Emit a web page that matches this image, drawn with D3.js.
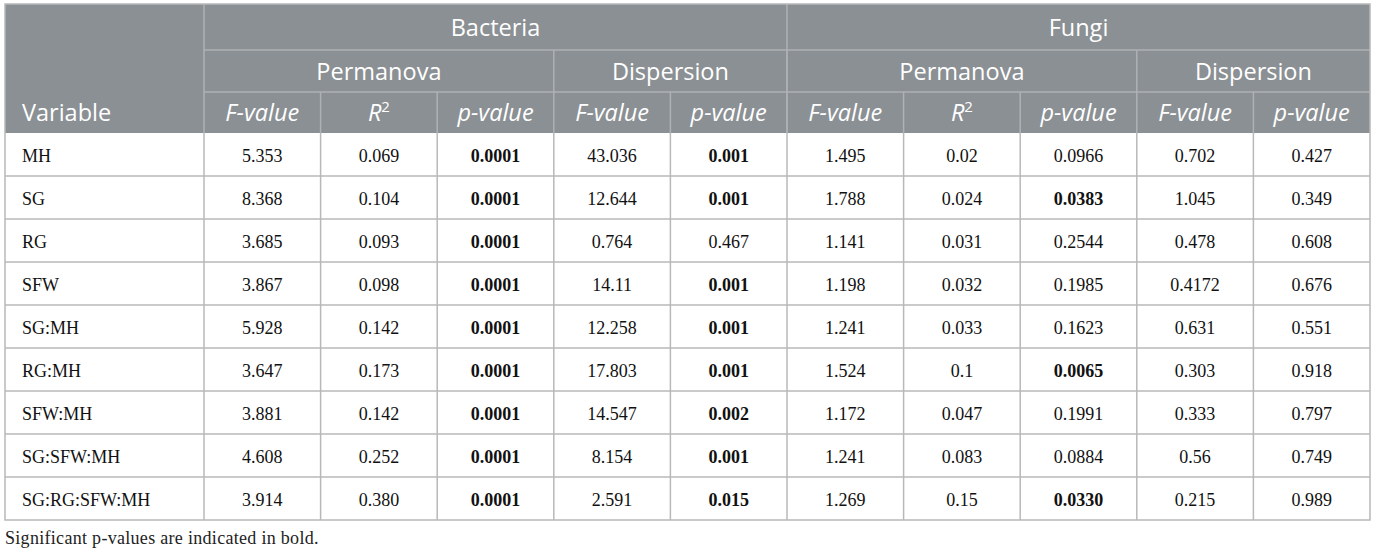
<!DOCTYPE html>
<html>
<head>
<meta charset="utf-8">
<script src="https://cdnjs.cloudflare.com/ajax/libs/d3/7.8.5/d3.min.js"></script>
<style>
  body { margin: 0; background: #fff; }
  svg { display: block; }
</style>
</head>
<body>
<div id="chart"></div>
<script>
// table content
var variables = ["MH", "SG", "RG", "SFW", "SG:MH", "RG:MH", "SFW:MH", "SG:SFW:MH", "SG:RG:SFW:MH"];
var bacPermF  = ["5.353", "8.368", "3.685", "3.867", "5.928", "3.647", "3.881", "4.608", "3.914"];
var bacPermR2 = ["0.069", "0.104", "0.093", "0.098", "0.142", "0.173", "0.142", "0.252", "0.380"];
var bacPermP  = ["0.0001", "0.0001", "0.0001", "0.0001", "0.0001", "0.0001", "0.0001", "0.0001", "0.0001"];
var bacDispF  = ["43.036", "12.644", "0.764", "14.11", "12.258", "17.803", "14.547", "8.154", "2.591"];
var bacDispP  = ["0.001", "0.001", "0.467", "0.001", "0.001", "0.001", "0.002", "0.001", "0.015"];
var funPermF  = ["1.495", "1.788", "1.141", "1.198", "1.241", "1.524", "1.172", "1.241", "1.269"];
var funPermR2 = ["0.02", "0.024", "0.031", "0.032", "0.033", "0.1", "0.047", "0.083", "0.15"];
var funPermP  = ["0.0966", "0.0383", "0.2544", "0.1985", "0.1623", "0.0065", "0.1991", "0.0884", "0.0330"];
var funDispF  = ["0.702", "1.045", "0.478", "0.4172", "0.631", "0.303", "0.333", "0.56", "0.215"];
var funDispP  = ["0.427", "0.349", "0.608", "0.676", "0.551", "0.918", "0.797", "0.749", "0.989"];

var groups = ["Bacteria", "Fungi"];
var subGroups = ["Permanova", "Dispersion", "Permanova", "Dispersion"];
var subSpan = [3, 2, 3, 2];
var colHeads = ["F-value", "R2", "p-value", "F-value", "p-value", "F-value", "R2", "p-value", "F-value", "p-value"];
var colData = [bacPermF, bacPermR2, bacPermP, bacDispF, bacDispP, funPermF, funPermR2, funPermP, funDispF, funDispP];
var isP = [false, false, true, false, true, false, false, true, false, true];
var note = "Significant p-values are indicated in bold.";

var W = 1375, H = 554;
var left = 5, varW = 199, right = 1370;
var top0 = 4, headRows = [4, 50, 92, 133], bottom = 520;

var headFill = "#8b9094", lineC = "#b8b8b8", headLine = "#aeb2b5";
var sans = "'Open Sans', sans-serif", serif = "'Liberation Serif', 'Times New Roman', serif";

var svg = d3.select("#chart").append("svg").attr("width", W).attr("height", H);

var x = d3.scaleBand().domain(d3.range(colHeads.length)).range([left + varW, right]);
var y = d3.scaleBand().domain(variables).range([headRows[3], bottom]);
var xGrp = d3.scaleBand().domain(groups).range([left + varW, right]);

// subgroup extents from column spans
var subs = [];
var c0 = 0;
subGroups.forEach(function(s, i) {
  subs.push({ name: s, x0: x(c0), x1: x(c0 + subSpan[i] - 1) + x.bandwidth(), start: c0 });
  c0 += subSpan[i];
});
var subStarts = subs.map(function(s) { return s.start; });

// header background
svg.append("rect").attr("x", left).attr("y", top0).attr("width", right - left).attr("height", headRows[3] - top0)
  .attr("fill", headFill);

// header lines
var hl = svg.append("g").attr("stroke", headLine).attr("stroke-width", 1.5);
hl.append("line").attr("x1", left + varW).attr("x2", right).attr("y1", headRows[1]).attr("y2", headRows[1]);
hl.append("line").attr("x1", left + varW).attr("x2", right).attr("y1", headRows[2]).attr("y2", headRows[2]);
hl.append("line").attr("x1", left + varW).attr("x2", left + varW).attr("y1", top0).attr("y2", headRows[3]);
hl.append("line").attr("x1", xGrp("Fungi")).attr("x2", xGrp("Fungi")).attr("y1", top0).attr("y2", headRows[3]);
hl.selectAll(".sub").data(subs.filter(function(s) { return s.start > 0; })).enter().append("line")
  .attr("x1", function(d) { return d.x0; }).attr("x2", function(d) { return d.x0; })
  .attr("y1", headRows[1]).attr("y2", headRows[3]);
hl.selectAll(".col").data(d3.range(1, colHeads.length).filter(function(i) { return subStarts.indexOf(i) < 0; }))
  .enter().append("line")
  .attr("x1", function(d) { return x(d); }).attr("x2", function(d) { return x(d); })
  .attr("y1", headRows[2]).attr("y2", headRows[3]);

var hs = 23.5;
// group titles
svg.selectAll(".grp").data(groups).enter().append("text")
  .attr("x", function(d) { return xGrp(d) + xGrp.bandwidth() / 2; })
  .attr("y", (headRows[0] + headRows[1]) / 2 + 8.5)
  .attr("text-anchor", "middle").attr("fill", "#fff")
  .style("font-family", sans).style("font-size", hs + "px")
  .text(function(d) { return d; });

svg.selectAll(".subt").data(subs).enter().append("text")
  .attr("x", function(d) { return (d.x0 + d.x1) / 2; })
  .attr("y", (headRows[1] + headRows[2]) / 2 + 8.5)
  .attr("text-anchor", "middle").attr("fill", "#fff")
  .style("font-family", sans).style("font-size", hs + "px")
  .text(function(d) { return d.name; });

svg.append("text").attr("x", left + 17).attr("y", (headRows[2] + headRows[3]) / 2 + 8.5)
  .attr("fill", "#fff").style("font-family", sans).style("font-size", hs + "px").text("Variable");

var ch = svg.selectAll(".ch").data(colHeads).enter().append("text")
  .attr("x", function(d, i) { return x(i) + x.bandwidth() / 2; })
  .attr("y", (headRows[2] + headRows[3]) / 2 + 8.5)
  .attr("text-anchor", "middle").attr("fill", "#fff")
  .style("font-family", sans).style("font-size", hs + "px").style("font-style", "italic");
ch.each(function(d) {
  var t = d3.select(this);
  if (d == "R2") {
    t.append("tspan").text("R");
    t.append("tspan").attr("dy", -9).style("font-size", "15px").style("font-style", "normal").text("2");
  } else {
    t.text(d);
  }
});

// body grid
var grid = svg.append("g").attr("stroke", lineC).attr("stroke-width", 1.5);
grid.selectAll(".h").data(variables.slice(1)).enter().append("line")
  .attr("x1", left).attr("x2", right)
  .attr("y1", function(d) { return y(d); }).attr("y2", function(d) { return y(d); });
grid.selectAll(".v").data(d3.range(colHeads.length)).enter().append("line")
  .attr("x1", function(d) { return x(d); }).attr("x2", function(d) { return x(d); })
  .attr("y1", headRows[3]).attr("y2", bottom);
grid.append("rect").attr("x", left).attr("y", top0).attr("width", right - left).attr("height", bottom - top0)
  .attr("fill", "none");

// body text
var rows = svg.selectAll(".row").data(variables).enter().append("g")
  .attr("transform", function(d) { return "translate(0," + (y(d) + y.bandwidth() / 2 + 7) + ")"; });
rows.append("text").attr("x", left + 17).attr("fill", "#111")
  .style("font-family", serif).style("font-size", "18px").text(function(d) { return d; });

colData.forEach(function(col, ci) {
  rows.append("text")
    .attr("x", x(ci) + x.bandwidth() / 2).attr("text-anchor", "middle").attr("fill", "#111")
    .style("font-family", serif).style("font-size", "18px")
    .style("font-weight", function(d, ri) { return isP[ci] && +col[ri] < 0.05 ? "bold" : "normal"; })
    .text(function(d, ri) { return col[ri]; });
});

svg.append("text").attr("x", left).attr("y", 544).attr("fill", "#222")
  .style("font-family", serif).style("font-size", "18px").style("letter-spacing", "0.3px").text(note);
</script>
</body>
</html>
